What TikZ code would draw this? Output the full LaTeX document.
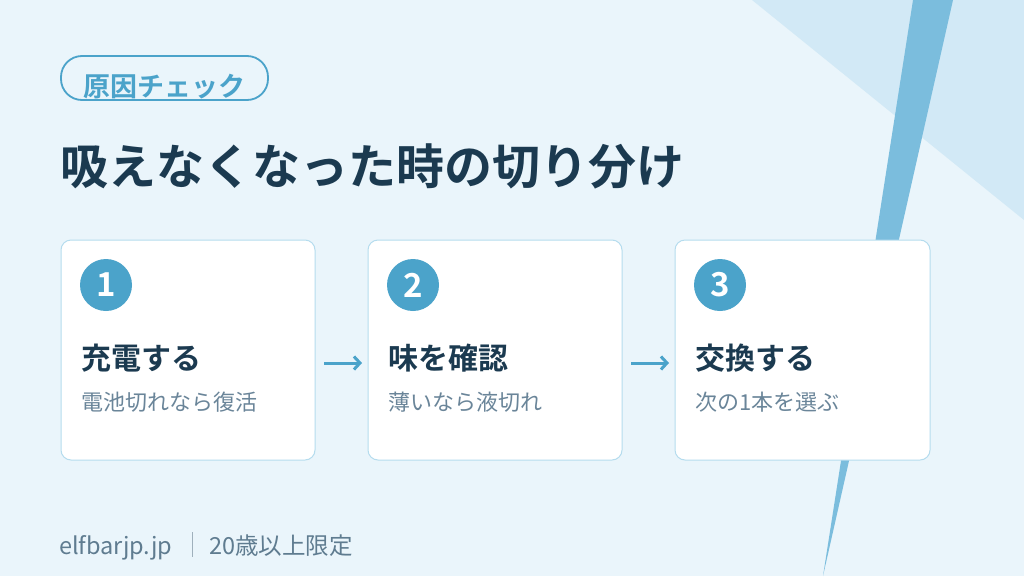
\documentclass[tikz,border=0pt]{standalone}
\usepackage{fontspec}
\setmainfont{Noto Sans CJK JP}
\newfontfamily\jpbold{Noto Sans CJK JP Bold}
\usetikzlibrary{arrows.meta}
\definecolor{bgc}{HTML}{EAF5FB}
\definecolor{tric}{HTML}{D2E9F6}
\definecolor{stripec}{HTML}{7BBDDD}
\definecolor{accent}{HTML}{4BA3CA}
\definecolor{darkc}{HTML}{1B3A50}
\definecolor{subc}{HTML}{6A8599}
\definecolor{footc}{HTML}{5F7C90}
\definecolor{cardb}{HTML}{B5DCEE}
\tikzset{
  x=1pt, y=-1pt,
  card/.style={draw=cardb, line width=1pt, fill=white, rounded corners=10pt},
  numcirc/.style={circle, fill=accent, minimum size=52pt, inner sep=0pt, text=white, font=\jpbold\fontsize{33}{33}\selectfont},
  cardtitle/.style={anchor=base west, inner sep=0pt, text=darkc, font=\jpbold\fontsize{30}{30}\selectfont},
  cardsub/.style={anchor=base west, inner sep=0pt, text=subc, font=\fontsize{22}{22}\selectfont},
  flow/.style={draw=accent, line width=3pt, -{Straight Barb[length=6pt,width=13pt,line width=3pt]}},
}
\begin{document}
\begin{tikzpicture}
\useasboundingbox (0,0) rectangle (1024,576);
\fill[bgc] (0,0) rectangle (1024,576);
\fill[tric] (752,0) -- (1024,0) -- (1024,220) -- cycle;
\fill[stripec] (913,0) -- (953,0) -- (823,576) -- cycle;

% badge
\draw[accent, line width=1.8pt, rounded corners=21pt] (61,56) rectangle (268,100);
\node[anchor=base, inner sep=0pt, text=accent, font=\jpbold\fontsize{27}{27}\selectfont] (badge) at (164.5,96) {原因チェック};

% title
\node[anchor=base west, inner sep=0pt, text=darkc, font=\jpbold\fontsize{48}{48}\selectfont] (title) at (60,184) {吸えなくなった時の切り分け};

% cards
\draw[card] (61,240) rectangle (315,460);
\draw[card] (368,240) rectangle (622,460);
\draw[card] (675,240) rectangle (930,460);

\node[numcirc] (n1) at (106,285) {1};
\node[numcirc] (n2) at (413,285) {2};
\node[numcirc] (n3) at (720,285) {3};

\node[cardtitle] (t1) at (81,369) {充電する};
\node[cardtitle] (t2) at (388,369) {味を確認};
\node[cardtitle] (t3) at (695,369) {交換する};

\node[cardsub] (s1) at (81,410) {電池切れなら復活};
\node[cardsub] (s2) at (388,410) {薄いなら液切れ};
\node[cardsub] (s3) at (695,410) {次の1本を選ぶ};

\coordinate (a1s) at (324,363);
\coordinate (a1e) at (362,363);
\coordinate (a2s) at (631,363);
\coordinate (a2e) at (669,363);
\draw[flow] (a1s) -- (a1e);
\draw[flow] (a2s) -- (a2e);

% footer
\node[anchor=base west, inner sep=0pt, text=footc, font=\fontsize{23.5}{23.5}\selectfont] (foot1) at (59,554) {elfbarjp.jp};
\coordinate (bar1) at (192,532);
\coordinate (bar2) at (192,557);
\draw[footc!60, line width=1pt] (bar1) -- (bar2);
\node[anchor=base west, inner sep=0pt, text=footc, font=\fontsize{23.5}{23.5}\selectfont] (foot2) at (209,554) {20歳以上限定};
\end{tikzpicture}
\end{document}
